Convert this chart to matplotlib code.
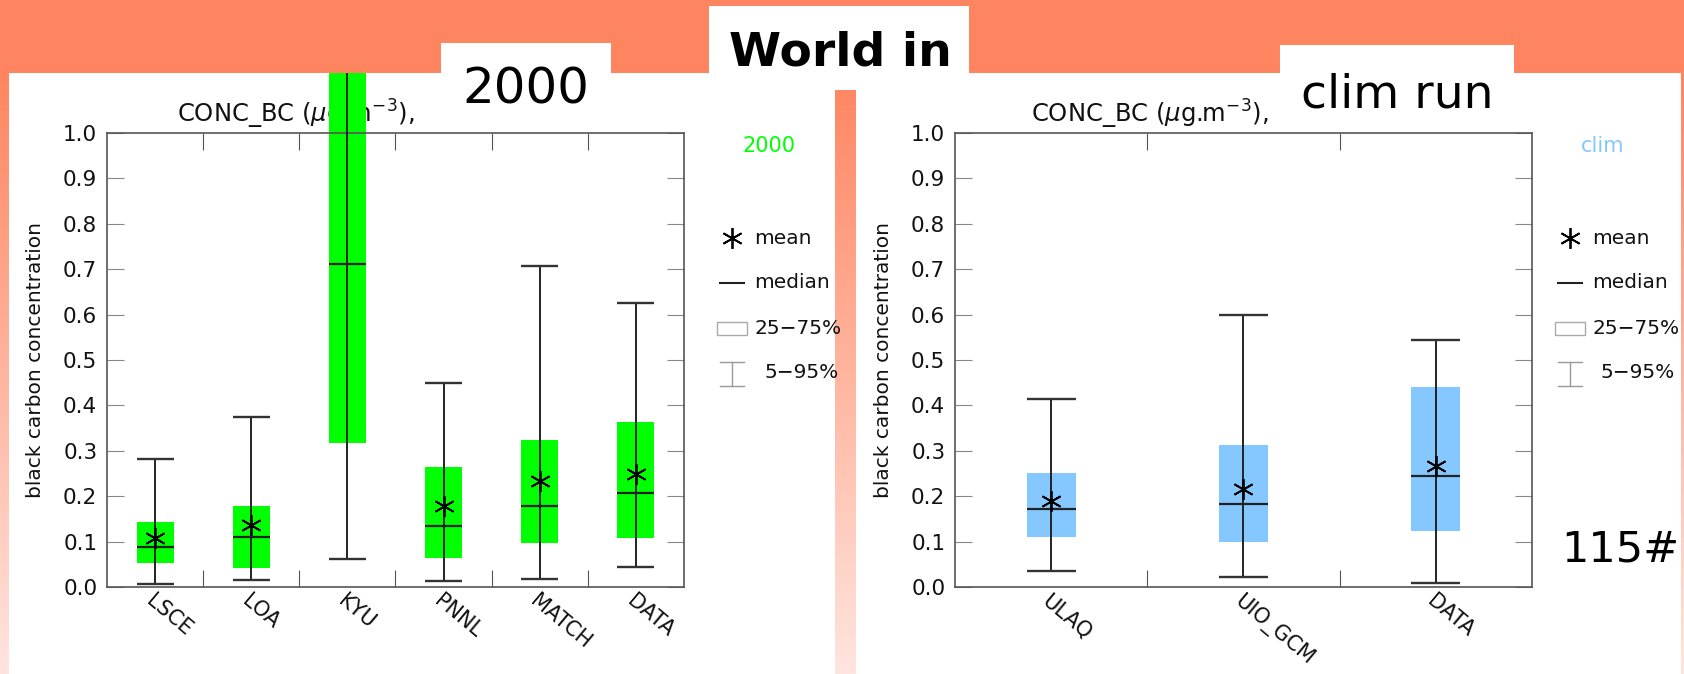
import numpy as np
import matplotlib
matplotlib.use("Agg")
import matplotlib.pyplot as plt
from matplotlib.patches import Rectangle
from matplotlib.transforms import ScaledTranslation

# ---- data (black carbon, ug m-3) ----
models_2000 = ["LSCE", "LOA", "KYU", "PNNL", "MATCH", "DATA"]
p05_2000 = [0.007, 0.015, 0.062, 0.014, 0.018, 0.045]
p25_2000 = [0.053, 0.042, 0.318, 0.063, 0.096, 0.109]
med_2000 = [0.088, 0.111, 0.712, 0.135, 0.178, 0.208]
p75_2000 = [0.143, 0.179, 1.30, 0.264, 0.324, 0.363]   # KYU box runs off the top
p95_2000 = [0.282, 0.375, 1.60, 0.450, 0.708, 0.626]
mean_2000 = [0.108, 0.136, 1.20, 0.179, 0.234, 0.250]

models_clim = ["ULAQ", "UIO_GCM", "DATA"]
p05_clim = [0.036, 0.022, 0.009]
p25_clim = [0.111, 0.100, 0.124]
med_clim = [0.171, 0.182, 0.245]
p75_clim = [0.251, 0.312, 0.441]
p95_clim = [0.414, 0.600, 0.544]
mean_clim = [0.189, 0.216, 0.266]

GREEN = "#00ff00"
BLUE = "#85c8ff"
ORANGE = np.array([255, 133, 96]) / 255
PINK = np.array([255, 229, 223]) / 255
STAR = (6, 2, 0)
W, H, DPI = 1684, 674, 100

fig = plt.figure(figsize=(W / DPI, H / DPI), dpi=DPI)

# slide background: orange band, then gradient to pale pink, white picture panels
bg = fig.add_axes([0, 0, 1, 1], zorder=0)
t = np.clip((np.arange(H) - 73) / (H - 73), 0, 1)
grad = ORANGE + (PINK - ORANGE) * t[:, None]
bg.imshow(grad[:, None, :], extent=[0, W, H, 0], aspect="auto")
bg.set_xlim(0, W); bg.set_ylim(H, 0); bg.axis("off")
for (x0, y0, w, h) in [(9, 73, 826, 601), (856, 73, 825, 601), (835, 73, 21, 17)]:
    bg.add_patch(Rectangle((x0, y0), w, h, color="white", lw=0))


def panel(rect, names, p05, p25, med, p75, p95, mean, color, bw, title_x):
    ax = fig.add_axes(rect, zorder=1)
    n = len(names)
    x = np.arange(n) + 0.5
    bars = ax.bar(x, np.subtract(p75, p25), bottom=p25, width=bw, color=color, lw=0, zorder=2)
    for b in bars:
        b.set_clip_on(False)
    ax.vlines(x, p05, p95, color="#222", lw=1.4, zorder=3, clip_on=False)
    ax.hlines(p05, x - bw / 2, x + bw / 2, color="#333", lw=1.7, zorder=3)
    ax.hlines(p95, x - bw / 2, x + bw / 2, color="#333", lw=1.7, zorder=3)
    ax.hlines(med, x - bw / 2, x + bw / 2, color="#222", lw=1.6, zorder=3)
    ax.plot(x, mean, ls="none", marker=STAR, ms=15, mew=1.3, color="k", zorder=4)

    ax.set_xlim(0, n); ax.set_ylim(0, 1.0)
    ax.set_xticks(np.arange(1, n))
    ax.set_xticks(x, minor=True)
    ax.set_xticklabels(names, minor=True, rotation=-40, ha="left", va="top",
                       rotation_mode="anchor", fontsize=15, color="#111")
    shift = ScaledTranslation(8 / DPI, 0, fig.dpi_scale_trans)
    for lab in ax.xaxis.get_minorticklabels():
        lab.set_transform(lab.get_transform() + shift)
    ax.tick_params(axis="x", which="major", direction="in", length=12, top=True,
                   labelbottom=False, color="#555")
    ax.tick_params(axis="x", which="minor", length=0, pad=3)
    ax.set_yticks(np.arange(0, 1.01, 0.1))
    ax.set_yticklabels([f"{v:.1f}" for v in np.arange(0, 1.01, 0.1)])
    ax.tick_params(axis="y", direction="in", length=12, right=True, labelsize=15.5,
                   pad=7, color="#888", labelcolor="#111")
    for s in ax.spines.values():
        s.set_color("#555"); s.set_linewidth(1.2)
    ax.set_ylabel("black carbon concentration", fontsize=14.5, color="#111")
    ax.yaxis.set_label_coords(-0.107, 0.5)
    ax.text(title_x, 1.04, "CONC_BC ($\\mu$g.m$^{-3}$), ", transform=ax.transAxes,
            ha="left", va="center", fontsize=17.5, color="#111", zorder=1)
    return ax


panel([107 / W, 87 / H, 577 / W, 454 / H], models_2000, p05_2000, p25_2000, med_2000,
      p75_2000, p95_2000, mean_2000, GREEN, 0.385, 0.121)
panel([955 / W, 87 / H, 577 / W, 454 / H], models_clim, p05_clim, p25_clim, med_clim,
      p75_clim, p95_clim, mean_clim, BLUE, 0.255, 0.132)

# overlay: orange header band (hides the off-scale KYU box), text boxes, legends
ov = fig.add_axes([0, 0, 1, 1], zorder=10)
ov.set_xlim(0, W); ov.set_ylim(H, 0); ov.axis("off"); ov.patch.set_visible(False)
ov.add_patch(Rectangle((0, 0), W, 73, color=ORANGE, lw=0))
ov.add_patch(Rectangle((709, 6), 260, 67, color="white", lw=0))
ov.add_patch(Rectangle((441, 43), 170, 82, color="white", lw=0))
ov.add_patch(Rectangle((1280, 45), 234, 80, color="white", lw=0))
ov.text(840, 65, "World in", ha="center", va="baseline", fontsize=34, fontweight="bold")
ov.text(526, 104, "2000", ha="center", va="baseline", fontsize=36)
ov.text(1397, 107, "clim run", ha="center", va="baseline", fontsize=34)
ov.text(1620, 561, "115#", ha="center", va="baseline", fontsize=31,
        family=["Liberation Sans Narrow", "DejaVu Sans"])


def legend(xm, xt, xt2, label, color):
    ov.text(xm + 11, 146, label, color=color, fontsize=15, ha="left", va="center")
    ov.plot([xm], [238], marker=STAR, ms=15, mew=1.3, color="k")
    ov.plot([xm - 12, xm + 12], [283, 283], color="#222", lw=1.5)
    ov.add_patch(Rectangle((xm - 15, 322), 30, 13, fill=False, ec="#aaa", lw=1))
    ov.plot([xm, xm], [362, 386], color="#999", lw=1)
    ov.plot([xm - 12, xm + 12], [362, 362], color="#999", lw=1)
    ov.plot([xm - 12, xm + 12], [386, 386], color="#999", lw=1)
    for y, s, xx in [(238, "mean", xt), (283, "median", xt), (328, "25\u221275%", xt),
                     (373, "5\u221295%", xt2)]:
        ov.text(xx, y, s, fontsize=14.5, ha="left", va="center", color="#111")


legend(732, 754, 764, "2000", GREEN)
legend(1570, 1592, 1601, "clim", BLUE)

fig.savefig("out.png", dpi=DPI)
